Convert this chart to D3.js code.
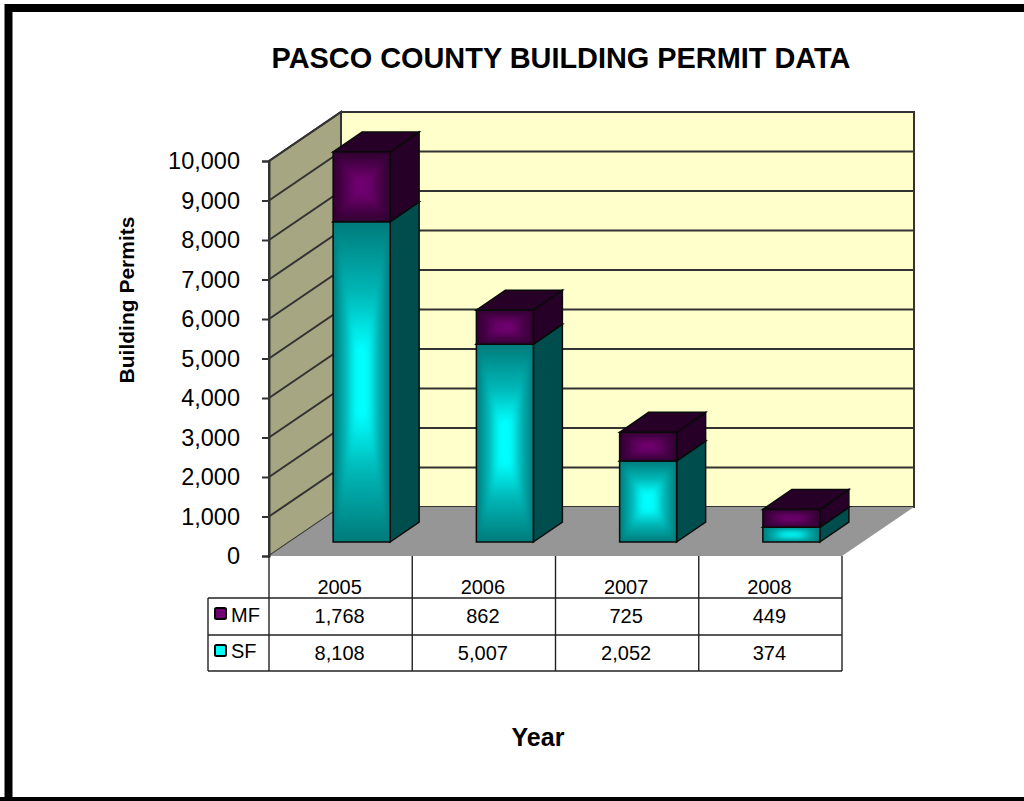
<!DOCTYPE html>
<html>
<head>
<meta charset="utf-8">
<script src="https://cdn.jsdelivr.net/npm/d3@7"></script>
<style>
html, body { margin: 0; padding: 0; background: #fff; }
svg { display: block; }
text { font-family: "Liberation Sans", Arial, sans-serif; fill: #000; }
</style>
</head>
<body>
<svg id="chart"></svg>
<script>
var years = ["2005", "2006", "2007", "2008"];
var mfValues = [1768, 862, 725, 449];
var sfValues = [8108, 5007, 2052, 374];
var yTicks = [0, 1000, 2000, 3000, 4000, 5000, 6000, 7000, 8000, 9000, 10000];
var seriesNames = ["SF", "MF"];

var svg = d3.select("#chart").attr("width", 1024).attr("height", 801);
var fmt = d3.format(",");

// plot box, the back wall sits 72 right and 49 up from the front
var left = 269, right = 842, bottom = 556, top_ = 161;
var depthX = 72, depthY = 49;
// bars stand a bit inside the floor
var insetX = 21, insetY = 14, barDX = 29, barDY = 20;

var xScale = d3.scaleBand().domain(years).range([left, right]).paddingInner(0.602).paddingOuter(0.301);
var yScale = d3.scaleLinear().domain([0, 10000]).range([bottom, top_]);

var colors = {
    SF: { center: "#00ffff", mid: "#00b8b8", edge: "#007a7a", side: "#004d4d" },
    MF: { center: "#700070", mid: "#520052", edge: "#2e002e", side: "#260026" }
};

// from-center fill: four triangles, each with its own gradient direction
var dirs = {
    top: [0, 1, 0, 0], bottom: [0, 0, 0, 1], left: [1, 0, 0, 0], right: [0, 0, 1, 0]
};
var defs = svg.append("defs");
seriesNames.forEach(function(name) {
    Object.keys(dirs).forEach(function(k) {
        var d = dirs[k];
        var grad = defs.append("linearGradient").attr("id", name + "-" + k)
            .attr("x1", d[0]).attr("y1", d[1]).attr("x2", d[2]).attr("y2", d[3]);
        grad.append("stop").attr("offset", 0).attr("stop-color", colors[name].center);
        grad.append("stop").attr("offset", 0.2).attr("stop-color", colors[name].center);
        grad.append("stop").attr("offset", 0.55).attr("stop-color", colors[name].mid);
        grad.append("stop").attr("offset", 1).attr("stop-color", colors[name].edge);
    });
});
// softens the seams between the triangles
defs.append("filter").attr("id", "soft")
    .attr("x", "-20%").attr("y", "-20%").attr("width", "140%").attr("height", "140%")
    .append("feGaussianBlur").attr("stdDeviation", 2.5);

// outer frame
svg.append("path")
    .attr("d", "M8.5,801V8H1024")
    .attr("fill", "none").attr("stroke", "#000").attr("stroke-width", 8);
svg.append("rect").attr("x", 0).attr("y", 797).attr("width", 1024).attr("height", 4).attr("fill", "#000");

svg.append("text").attr("x", 561).attr("y", 68).attr("text-anchor", "middle")
    .attr("font-size", 28.9).attr("font-weight", "bold")
    .text("PASCO COUNTY BUILDING PERMIT DATA");

// walls and floor
var wall = svg.append("g");
wall.append("polygon")
    .attr("points", [[left + depthX, yScale(10000) - depthY], [right + depthX, yScale(10000) - depthY], [right + depthX, bottom - depthY], [left + depthX, bottom - depthY]].join(" "))
    .attr("fill", "#ffffcc").attr("stroke", "#333").attr("stroke-width", 2);
wall.append("polygon")
    .attr("points", [[left, yScale(10000)], [left + depthX, yScale(10000) - depthY], [left + depthX, bottom - depthY], [left, bottom]].join(" "))
    .attr("fill", "#a6a682").attr("stroke", "#333").attr("stroke-width", 2);
wall.append("polygon")
    .attr("points", [[left, bottom], [left + depthX, bottom - depthY], [right + depthX, bottom - depthY], [right, bottom]].join(" "))
    .attr("fill", "#969696");

wall.selectAll(".grid")
    .data(yTicks.slice(1))
    .enter().append("path")
    .attr("class", "grid")
    .attr("d", function(d) {
        return "M" + left + "," + yScale(d) + "L" + (left + depthX) + "," + (yScale(d) - depthY) + "H" + (right + depthX);
    })
    .attr("fill", "none").attr("stroke", "#333").attr("stroke-width", 2);

// y axis
var yAxis = svg.append("g")
    .attr("transform", "translate(" + left + ",0)")
    .call(d3.axisLeft(yScale).tickValues(yTicks).tickFormat(fmt).tickSize(7).tickPadding(22));
yAxis.selectAll("text").attr("font-size", 23.5).attr("fill", "#111").attr("dy", "0.32em").style("font-family", "'Liberation Sans', Arial, sans-serif");
yAxis.selectAll("line,path").attr("stroke", "#333").attr("stroke-width", 2);

svg.append("text")
    .attr("transform", "translate(134,300) rotate(-90)")
    .attr("text-anchor", "middle").attr("font-size", 21).attr("font-weight", "bold")
    .text("Building Permits");

// bars
var flatData = years.map(function(y, i) { return { year: y, SF: sfValues[i], MF: mfValues[i] }; });
var stacked = d3.stack().keys(seriesNames)(flatData);

var segments = [];
flatData.forEach(function(d, i) {
    stacked.forEach(function(s) {
        segments.push({ name: s.key, year: d.year, y0: s[i][0], y1: s[i][1] });
    });
});

var seg = svg.selectAll(".seg").data(segments).enter().append("g").attr("class", "seg");

seg.each(function(d, i) {
    var g = d3.select(this);
    var x0 = xScale(d.year) + insetX, x1 = x0 + xScale.bandwidth();
    var yb = yScale(d.y0) - insetY, yt = yScale(d.y1) - insetY;
    var cx = (x0 + x1) / 2, cy = (yb + yt) / 2;
    var c = colors[d.name];

    g.append("polygon")
        .attr("points", [[x1, yb], [x1 + barDX, yb - barDY], [x1 + barDX, yt - barDY], [x1, yt]].join(" "))
        .attr("fill", c.side).attr("stroke", "#0a0a0a").attr("stroke-width", 1.5);
    g.append("polygon")
        .attr("points", [[x0, yt], [x0 + barDX, yt - barDY], [x1 + barDX, yt - barDY], [x1, yt]].join(" "))
        .attr("fill", c.side).attr("stroke", "#0a0a0a").attr("stroke-width", 1.5);

    defs.append("clipPath").attr("id", "face" + i)
        .append("rect").attr("x", x0).attr("y", yt).attr("width", x1 - x0).attr("height", yb - yt);

    var face = g.append("g").attr("clip-path", "url(#face" + i + ")");
    face.append("rect")
        .attr("x", x0).attr("y", yt).attr("width", x1 - x0).attr("height", yb - yt)
        .attr("fill", c.edge);
    var inner = face.append("g").attr("filter", "url(#soft)");
    var tris = {
        top: [[x0, yt], [x1, yt], [cx, cy]],
        bottom: [[x0, yb], [x1, yb], [cx, cy]],
        left: [[x0, yt], [x0, yb], [cx, cy]],
        right: [[x1, yt], [x1, yb], [cx, cy]]
    };
    Object.keys(tris).forEach(function(k) {
        inner.append("polygon")
            .attr("points", tris[k].join(" "))
            .attr("fill", "url(#" + d.name + "-" + k + ")")
            .attr("stroke", "url(#" + d.name + "-" + k + ")")
            .attr("stroke-width", 0.6);
    });
    g.append("rect")
        .attr("x", x0).attr("y", yt).attr("width", x1 - x0).attr("height", yb - yt)
        .attr("fill", "none").attr("stroke", "#0a0a0a").attr("stroke-width", 1.5);
});

// data table
var rowTop = 598, rowMid = 635, rowEnd = 671, tableLeft = 208;
var table = svg.append("g").attr("stroke", "#222").attr("stroke-width", 1.4).attr("fill", "none");
var step = xScale.step();
years.map(function(y, i) { return left + i * step; }).concat([right]).forEach(function(x) {
    table.append("line").attr("x1", x).attr("x2", x).attr("y1", bottom).attr("y2", rowEnd);
});
[rowTop, rowMid, rowEnd].forEach(function(y) {
    table.append("line").attr("x1", tableLeft).attr("x2", right).attr("y1", y).attr("y2", y);
});
table.append("line").attr("x1", tableLeft).attr("x2", tableLeft).attr("y1", rowTop).attr("y2", rowEnd);

function cellX(i) { return left + (i + 0.5) * step; }

svg.selectAll(".yearLabel").data(years).enter().append("text")
    .attr("class", "yearLabel").attr("x", function(d, i) { return cellX(i) - 1; }).attr("y", 594)
    .attr("text-anchor", "middle").attr("font-size", 20).text(function(d) { return d; });
svg.selectAll(".mfLabel").data(mfValues).enter().append("text")
    .attr("class", "mfLabel").attr("x", function(d, i) { return cellX(i) - 1; }).attr("y", 623)
    .attr("text-anchor", "middle").attr("font-size", 20).text(function(d) { return fmt(d); });
svg.selectAll(".sfLabel").data(sfValues).enter().append("text")
    .attr("class", "sfLabel").attr("x", function(d, i) { return cellX(i) - 1; }).attr("y", 660)
    .attr("text-anchor", "middle").attr("font-size", 20).text(function(d) { return fmt(d); });

// legend keys inside the table
[["MF", 608, 622], ["SF", 645, 658]].forEach(function(k) {
    svg.append("rect").attr("x", 215).attr("y", k[1]).attr("width", 11).attr("height", 11).attr("rx", 1.5)
        .attr("fill", colors[k[0]].center).attr("stroke", "#000").attr("stroke-width", 2);
    svg.append("text").attr("x", 231).attr("y", k[2]).attr("font-size", 20).text(k[0]);
});

svg.append("text").attr("x", 538).attr("y", 746).attr("text-anchor", "middle")
    .attr("font-size", 25).attr("font-weight", "bold").text("Year");
</script>
</body>
</html>
